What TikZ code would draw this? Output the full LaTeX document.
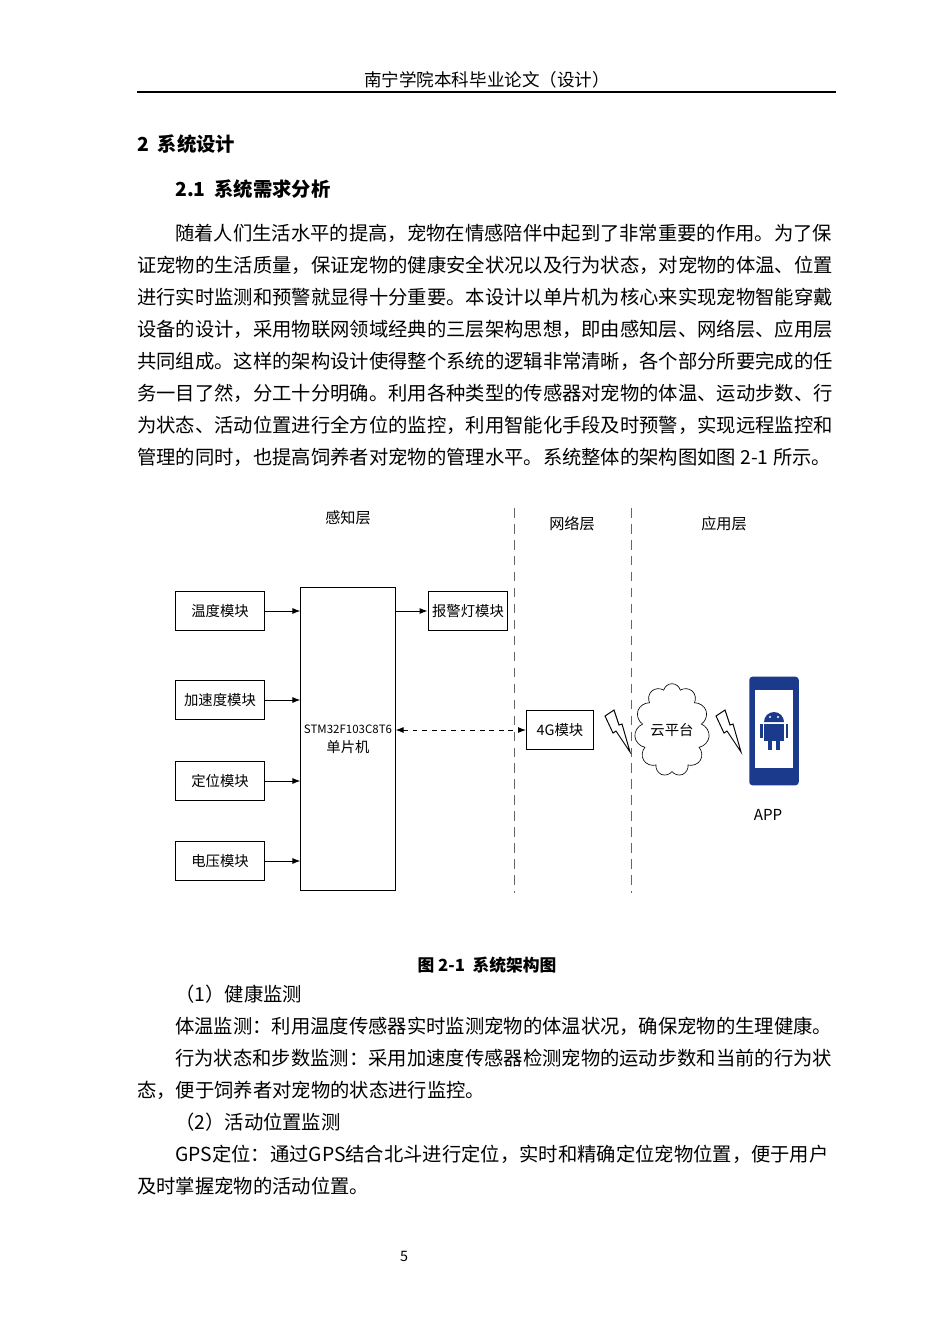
\documentclass[tikz,border=0pt]{standalone}
\usepackage{fontspec}
\setmainfont{Noto Sans CJK SC}
\usetikzlibrary{shapes.symbols,arrows.meta}

\tikzset{
  line/.style={anchor=west,inner sep=0pt,font=\fontsize{12.1}{20}\selectfont},
  module/.style={draw,semithick,inner sep=0pt,font=\fontsize{9}{12}\selectfont},
  layer/.style={inner sep=0pt,font=\fontsize{9.5}{12}\selectfont},
  into/.style={semithick,-{Latex[length=5pt]}},
  divider/.style={semithick,dash pattern=on 6pt off 4pt,gray!80!black}
}
\definecolor{phoneblue}{HTML}{1B3A8C}

\begin{document}
\begin{tikzpicture}[x=0.6263pt,y=-0.6263pt]
\useasboundingbox (0,0) rectangle (950,1344);
% header
\node[inner sep=0pt,font=\fontsize{11}{14}\selectfont] (head) at (487,80) {南宁学院本科毕业论文（设计）};
\draw[thick] (137,92) -- (836,92);
\node[line,font=\fontsize{12.1}{20}\bfseries] (sec) at (137,144) {2\ \ 系统设计};
\node[line,font=\fontsize{12.1}{20}\bfseries] (subsec) at (175,189) {2.1\ \ 系统需求分析};
% paragraph
\node[line] (p1) at (175,233) {随着人们生活水平的提高，宠物在情感陪伴中起到了非常重要的作用。为了保};
\node[line] (p2) at (137,265) {证宠物的生活质量，保证宠物的健康安全状况以及行为状态，对宠物的体温、位置};
\node[line] (p3) at (137,297) {进行实时监测和预警就显得十分重要。本设计以单片机为核心来实现宠物智能穿戴};
\node[line] (p4) at (137,329) {设备的设计，采用物联网领域经典的三层架构思想，即由感知层、网络层、应用层};
\node[line] (p5) at (137,361) {共同组成。这样的架构设计使得整个系统的逻辑非常清晰，各个部分所要完成的任};
\node[line] (p6) at (137,393) {务一目了然，分工十分明确。利用各种类型的传感器对宠物的体温、运动步数、行};
\node[line] (p7) at (137,425) {为状态、活动位置进行全方位的监控，利用智能化手段及时预警，实现远程监控和};
\node[line] (p8) at (137,457) {管理的同时，也提高饲养者对宠物的管理水平。系统整体的架构图如图 2-1 所示。};

% layers
\node[layer] (sense) at (348,518) {感知层};
\node[layer] (net) at (572,524) {网络层};
\node[layer] (app) at (724,524) {应用层};
\draw[divider] (514,508) -- (514,893);
\draw[divider] (631,508) -- (631,893);

% modules
\node[module,minimum width=56pt,minimum height=24.4pt] (temp) at (220,611) {温度模块};
\node[module,minimum width=56pt,minimum height=24.4pt] (acc) at (220,700) {加速度模块};
\node[module,minimum width=56pt,minimum height=24.4pt] (gps) at (220,781) {定位模块};
\node[module,minimum width=56pt,minimum height=24.4pt] (volt) at (220,861) {电压模块};
\node[module,minimum width=59pt,minimum height=190pt,align=center,font=\fontsize{7.2}{12}\selectfont] (mcu) at (348,739) {STM32F103C8T6\\{\fontsize{9}{12}\selectfont 单片机}};
\node[module,minimum width=50pt,minimum height=24.4pt] (alarm) at (468,611) {报警灯模块};
\node[module,minimum width=42pt,minimum height=24.4pt] (lte) at (560,730) {4G模块};
\node[cloud,draw,cloud puffs=11,aspect=0.8,minimum width=46pt,minimum height=58pt,inner sep=0pt,font=\fontsize{9}{12}\selectfont] (cloud) at (672,730) {云平台};

\draw[into] (temp.east) -- (temp.east -| mcu.west);
\draw[into] (acc.east) -- (acc.east -| mcu.west);
\draw[into] (gps.east) -- (gps.east -| mcu.west);
\draw[into] (volt.east) -- (volt.east -| mcu.west);
\draw[into] (alarm.west -| mcu.east) -- (alarm.west);
\draw[semithick,dashed,{Latex[length=5pt]}-{Latex[length=5pt]}] (lte.west -| mcu.east) -- (lte.west);

% lightning
\foreach \bx in {605,716} {
  \draw[semithick,fill=white] (\bx,716) -- (\bx+9,710) -- (\bx+14,725) -- (\bx+17,724) -- (\bx+25,752)
    -- (\bx+11,731) -- (\bx+8,733) -- cycle;
}

% phone
\node[fill=phoneblue,rounded corners=2pt,minimum width=31pt,minimum height=68pt,inner sep=0pt] (phone) at (774,731) {};
\fill[white] (755,690) rectangle (793,768);
\fill[phoneblue] (768,684) rectangle (780,686);
\fill[phoneblue] (774,776) circle (3.2);
\fill[phoneblue] (764,722) arc (180:360:10) -- cycle;
\fill[phoneblue] (764,724) rectangle (784,741);
\fill[phoneblue] (760,724) rectangle (762.5,738);
\fill[phoneblue] (785.5,724) rectangle (788,738);
\fill[phoneblue] (768,741) rectangle (772,750);
\fill[phoneblue] (776,741) rectangle (780,750);
\fill[white] (770,717) circle (1.2) (778,717) circle (1.2);
\node[layer] (applabel) at (768,815) {APP};

\node[inner sep=0pt,font=\fontsize{10.5}{12}\bfseries] (cap) at (487,965) {图 2-1\ \ 系统架构图};

% after figure
\node[line] (q1) at (175,994) {（1）健康监测};
\node[line] (q2) at (175,1026) {体温监测：利用温度传感器实时监测宠物的体温状况，确保宠物的生理健康。};
\node[line] (q3) at (175,1058) {行为状态和步数监测：采用加速度传感器检测宠物的运动步数和当前的行为状};
\node[line] (q4) at (137,1090) {态，便于饲养者对宠物的状态进行监控。};
\node[line] (q5) at (175,1122) {（2）活动位置监测};
\node[line] (q6) at (175,1154) {GPS定位：通过GPS结合北斗进行定位，实时和精确定位宠物位置，便于用户};
\node[line] (q7) at (137,1186) {及时掌握宠物的活动位置。};
\node[inner sep=0pt,font=\fontsize{9}{10}\selectfont] (page) at (404,1256) {5};
\end{tikzpicture}
\end{document}
